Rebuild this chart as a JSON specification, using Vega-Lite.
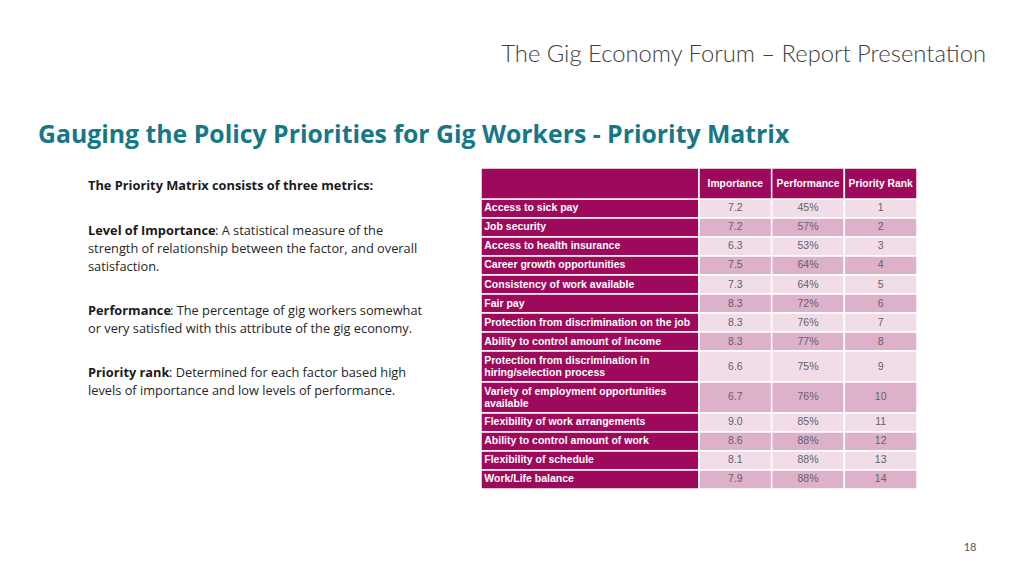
{
  "$schema": "https://vega.github.io/schema/vega-lite/v6.json",
  "width": 1024,
  "height": 578,
  "padding": 0,
  "autosize": "none",
  "background": "white",
  "config": {"view": {"stroke": null}, "axis": {"disable": true}, "scale": {"nice": false}},
  "resolve": {"scale": {"x": "independent", "y": "independent"}},
  "layer": [
    {
      "data": {"values": [
        {"rank": 1, "factor": "Access to sick pay", "importance": 7.2, "performance": 0.45},
        {"rank": 2, "factor": "Job security", "importance": 7.2, "performance": 0.57},
        {"rank": 3, "factor": "Access to health insurance", "importance": 6.3, "performance": 0.53},
        {"rank": 4, "factor": "Career growth opportunities", "importance": 7.5, "performance": 0.64},
        {"rank": 5, "factor": "Consistency of work available", "importance": 7.3, "performance": 0.64},
        {"rank": 6, "factor": "Fair pay", "importance": 8.3, "performance": 0.72},
        {"rank": 7, "factor": "Protection from discrimination on the job", "importance": 8.3, "performance": 0.76},
        {"rank": 8, "factor": "Ability to control amount of income", "importance": 8.3, "performance": 0.77},
        {"rank": 9, "factor": "Protection from discrimination in\nhiring/selection process", "importance": 6.6, "performance": 0.75},
        {"rank": 10, "factor": "Variety of employment opportunities\navailable", "importance": 6.7, "performance": 0.76},
        {"rank": 11, "factor": "Flexibility of work arrangements", "importance": 9.0, "performance": 0.85},
        {"rank": 12, "factor": "Ability to control amount of work", "importance": 8.6, "performance": 0.88},
        {"rank": 13, "factor": "Flexibility of schedule", "importance": 8.1, "performance": 0.88},
        {"rank": 14, "factor": "Work/Life balance", "importance": 7.9, "performance": 0.88}
      ]},
      "transform": [
        {"calculate": "indexof(datum.factor, '\\n') >= 0 ? 1.63 : 1", "as": "h"},
        {"window": [{"op": "sum", "field": "h", "as": "y1"}], "sort": [{"field": "rank", "order": "ascending"}], "frame": [null, 0]},
        {"calculate": "datum.y1 - datum.h", "as": "y0"},
        {"calculate": "datum.y1 - datum.h / 2", "as": "ymid"},
        {"calculate": "datum.y0 + 0.5", "as": "ylab"}
      ],
      "layer": [
        {
          "mark": {"type": "rect", "fill": "#9D0A5C", "stroke": "white", "strokeWidth": 1.5},
          "encoding": {
            "x": {"datum": 0, "type": "quantitative", "scale": {"domain": [0, 6], "range": [481, 917], "nice": false, "zero": false}, "axis": null},
            "x2": {"datum": 3},
            "y": {"field": "y0", "type": "quantitative", "scale": {"domain": [-1.63, 15.26], "range": [168, 489], "nice": false, "zero": false}, "axis": null},
            "y2": {"field": "y1"}
          }
        },
        {
          "mark": {"type": "rect", "stroke": "white", "strokeWidth": 1.5},
          "encoding": {
            "x": {"datum": 3, "type": "quantitative", "axis": null},
            "x2": {"datum": 4},
            "y": {"field": "y0", "type": "quantitative", "axis": null},
            "y2": {"field": "y1"},
            "fill": {"condition": {"test": "datum.rank % 2 === 0", "value": "#DEB1CA"}, "value": "#F1DDE8"}
          }
        },
        {
          "mark": {"type": "rect", "stroke": "white", "strokeWidth": 1.5},
          "encoding": {
            "x": {"datum": 4, "type": "quantitative", "axis": null},
            "x2": {"datum": 5},
            "y": {"field": "y0", "type": "quantitative", "axis": null},
            "y2": {"field": "y1"},
            "fill": {"condition": {"test": "datum.rank % 2 === 0", "value": "#DEB1CA"}, "value": "#F1DDE8"}
          }
        },
        {
          "mark": {"type": "rect", "stroke": "white", "strokeWidth": 1.5},
          "encoding": {
            "x": {"datum": 5, "type": "quantitative", "axis": null},
            "x2": {"datum": 6},
            "y": {"field": "y0", "type": "quantitative", "axis": null},
            "y2": {"field": "y1"},
            "fill": {"condition": {"test": "datum.rank % 2 === 0", "value": "#DEB1CA"}, "value": "#F1DDE8"}
          }
        },
        {
          "mark": {"type": "text", "align": "left", "baseline": "middle", "font": "Liberation Sans", "fontWeight": "bold", "fontSize": 10.5, "color": "white", "lineBreak": "\n", "lineHeight": 12},
          "encoding": {
            "x": {"datum": 0.045, "type": "quantitative", "axis": null},
            "y": {"field": "ylab", "type": "quantitative", "axis": null},
            "text": {"field": "factor"}
          }
        },
        {
          "mark": {"type": "text", "align": "center", "baseline": "middle", "font": "Liberation Sans", "fontSize": 10.5, "color": "#666066"},
          "encoding": {
            "x": {"datum": 3.5, "type": "quantitative", "axis": null},
            "y": {"field": "ymid", "type": "quantitative", "axis": null},
            "text": {"field": "importance", "type": "quantitative", "format": ".1f"}
          }
        },
        {
          "mark": {"type": "text", "align": "center", "baseline": "middle", "font": "Liberation Sans", "fontSize": 10.5, "color": "#666066"},
          "encoding": {
            "x": {"datum": 4.5, "type": "quantitative", "axis": null},
            "y": {"field": "ymid", "type": "quantitative", "axis": null},
            "text": {"field": "performance", "type": "quantitative", "format": ".0%"}
          }
        },
        {
          "mark": {"type": "text", "align": "center", "baseline": "middle", "font": "Liberation Sans", "fontSize": 10.5, "color": "#666066"},
          "encoding": {
            "x": {"datum": 5.5, "type": "quantitative", "axis": null},
            "y": {"field": "ymid", "type": "quantitative", "axis": null},
            "text": {"field": "rank", "type": "quantitative"}
          }
        },
        {
          "data": {"values": [{"heading": ""}]},
          "mark": {"type": "rect", "fill": "#9D0A5C", "stroke": "white", "strokeWidth": 1.5},
          "encoding": {
            "x": {"datum": 0, "type": "quantitative", "axis": null},
            "x2": {"datum": 3},
            "y": {"datum": -1.63, "type": "quantitative", "axis": null},
            "y2": {"datum": 0}
          }
        },
        {
          "data": {"values": [{"heading": "Importance"}]},
          "layer": [
            {"mark": {"type": "rect", "fill": "#9D0A5C", "stroke": "white", "strokeWidth": 1.5},
             "encoding": {"x": {"datum": 3, "type": "quantitative", "axis": null}, "x2": {"datum": 4}, "y": {"datum": -1.63, "type": "quantitative", "axis": null}, "y2": {"datum": 0}}},
            {"mark": {"type": "text", "align": "center", "baseline": "middle", "font": "Liberation Sans", "fontWeight": "bold", "fontSize": 10.3, "color": "white"},
             "encoding": {"x": {"datum": 3.5, "type": "quantitative", "axis": null}, "y": {"datum": -0.8, "type": "quantitative", "axis": null}, "text": {"field": "heading"}}}
          ]
        },
        {
          "data": {"values": [{"heading": "Performance"}]},
          "layer": [
            {"mark": {"type": "rect", "fill": "#9D0A5C", "stroke": "white", "strokeWidth": 1.5},
             "encoding": {"x": {"datum": 4, "type": "quantitative", "axis": null}, "x2": {"datum": 5}, "y": {"datum": -1.63, "type": "quantitative", "axis": null}, "y2": {"datum": 0}}},
            {"mark": {"type": "text", "align": "center", "baseline": "middle", "font": "Liberation Sans", "fontWeight": "bold", "fontSize": 10.3, "color": "white"},
             "encoding": {"x": {"datum": 4.5, "type": "quantitative", "axis": null}, "y": {"datum": -0.8, "type": "quantitative", "axis": null}, "text": {"field": "heading"}}}
          ]
        },
        {
          "data": {"values": [{"heading": "Priority Rank"}]},
          "layer": [
            {"mark": {"type": "rect", "fill": "#9D0A5C", "stroke": "white", "strokeWidth": 1.5},
             "encoding": {"x": {"datum": 5, "type": "quantitative", "axis": null}, "x2": {"datum": 6}, "y": {"datum": -1.63, "type": "quantitative", "axis": null}, "y2": {"datum": 0}}},
            {"mark": {"type": "text", "align": "center", "baseline": "middle", "font": "Liberation Sans", "fontWeight": "bold", "fontSize": 10.3, "color": "white"},
             "encoding": {"x": {"datum": 5.5, "type": "quantitative", "axis": null}, "y": {"datum": -0.8, "type": "quantitative", "axis": null}, "text": {"field": "heading"}}}
          ]
        }
      ]
    },
    {
      "data": {"values": [{}]},
      "layer": [
        {
          "mark": {"type": "text", "align": "right", "baseline": "middle", "font": "Lato", "fontWeight": 300, "fontSize": 23.8, "color": "#404040", "text": "The Gig Economy Forum – Report Presentation"},
          "encoding": {
            "x": {"datum": 986, "type": "quantitative", "scale": {"domain": [0, 1024], "range": [0, 1024], "nice": false}, "axis": null},
            "y": {"datum": 55, "type": "quantitative", "scale": {"domain": [0, 578], "range": [0, 578], "nice": false}, "axis": null}
          }
        },
        {
          "mark": {"type": "text", "align": "left", "baseline": "middle", "font": "Open Sans", "fontWeight": "bold", "fontSize": 24.8, "color": "#167886", "text": "Gauging the Policy Priorities for Gig Workers - Priority Matrix"},
          "encoding": {"x": {"datum": 38, "type": "quantitative", "axis": null}, "y": {"datum": 136, "type": "quantitative", "axis": null}}
        },
        {
          "mark": {"type": "text", "align": "left", "baseline": "middle", "font": "Open Sans", "fontWeight": "bold", "fontSize": 12.8, "color": "#1a1a1a", "text": "The Priority Matrix consists of three metrics:"},
          "encoding": {"x": {"datum": 88, "type": "quantitative", "axis": null}, "y": {"datum": 186, "type": "quantitative", "axis": null}}
        },
        {
          "mark": {"type": "text", "align": "left", "baseline": "middle", "font": "Open Sans", "fontWeight": "bold", "fontSize": 12.8, "color": "#1a1a1a", "text": "Level of Importance"},
          "encoding": {"x": {"datum": 88, "type": "quantitative", "axis": null}, "y": {"datum": 231, "type": "quantitative", "axis": null}}
        },
        {
          "mark": {"type": "text", "align": "left", "baseline": "middle", "font": "Open Sans", "fontSize": 12.8, "color": "#262626", "text": ": A statistical measure of the"},
          "encoding": {"x": {"datum": 215, "type": "quantitative", "axis": null}, "y": {"datum": 231, "type": "quantitative", "axis": null}}
        },
        {
          "mark": {"type": "text", "align": "left", "baseline": "middle", "font": "Open Sans", "fontSize": 12.8, "color": "#262626", "lineHeight": 18, "text": ["strength of relationship between the factor, and overall", "satisfaction."]},
          "encoding": {"x": {"datum": 88, "type": "quantitative", "axis": null}, "y": {"datum": 249, "type": "quantitative", "axis": null}}
        },
        {
          "mark": {"type": "text", "align": "left", "baseline": "middle", "font": "Open Sans", "fontWeight": "bold", "fontSize": 12.8, "color": "#1a1a1a", "text": "Performance"},
          "encoding": {"x": {"datum": 88, "type": "quantitative", "axis": null}, "y": {"datum": 311, "type": "quantitative", "axis": null}}
        },
        {
          "mark": {"type": "text", "align": "left", "baseline": "middle", "font": "Open Sans", "fontSize": 12.8, "color": "#262626", "text": ": The percentage of gig workers somewhat"},
          "encoding": {"x": {"datum": 170, "type": "quantitative", "axis": null}, "y": {"datum": 311, "type": "quantitative", "axis": null}}
        },
        {
          "mark": {"type": "text", "align": "left", "baseline": "middle", "font": "Open Sans", "fontSize": 12.8, "color": "#262626", "text": "or very satisfied with this attribute of the gig economy."},
          "encoding": {"x": {"datum": 88, "type": "quantitative", "axis": null}, "y": {"datum": 329, "type": "quantitative", "axis": null}}
        },
        {
          "mark": {"type": "text", "align": "left", "baseline": "middle", "font": "Open Sans", "fontWeight": "bold", "fontSize": 12.8, "color": "#1a1a1a", "text": "Priority rank"},
          "encoding": {"x": {"datum": 88, "type": "quantitative", "axis": null}, "y": {"datum": 373, "type": "quantitative", "axis": null}}
        },
        {
          "mark": {"type": "text", "align": "left", "baseline": "middle", "font": "Open Sans", "fontSize": 12.8, "color": "#262626", "text": ": Determined for each factor based high"},
          "encoding": {"x": {"datum": 169, "type": "quantitative", "axis": null}, "y": {"datum": 373, "type": "quantitative", "axis": null}}
        },
        {
          "mark": {"type": "text", "align": "left", "baseline": "middle", "font": "Open Sans", "fontSize": 12.8, "color": "#262626", "text": "levels of importance and low levels of performance."},
          "encoding": {"x": {"datum": 88, "type": "quantitative", "axis": null}, "y": {"datum": 391, "type": "quantitative", "axis": null}}
        },
        {
          "mark": {"type": "text", "align": "center", "baseline": "middle", "font": "Lato", "fontSize": 11, "color": "#555555", "text": "18"},
          "encoding": {"x": {"datum": 970, "type": "quantitative", "axis": null}, "y": {"datum": 548, "type": "quantitative", "axis": null}}
        }
      ]
    }
  ]
}
